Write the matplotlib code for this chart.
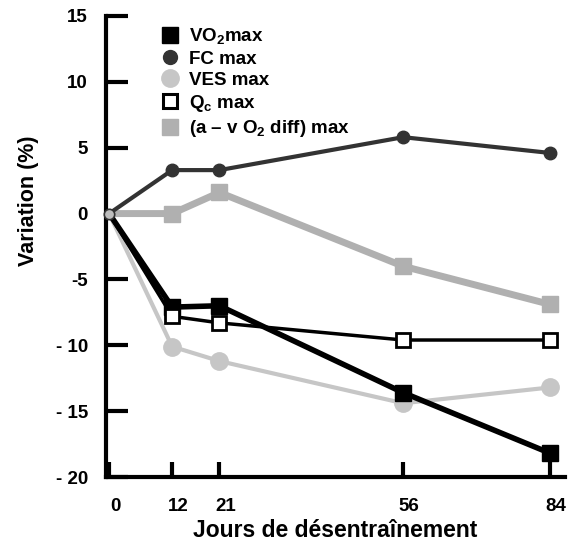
import matplotlib
matplotlib.use("Agg")
import matplotlib.pyplot as plt
import matplotlib.transforms as mtransforms
from matplotlib.lines import Line2D

plt.rcParams['font.family'] = ['Liberation Sans', 'DejaVu Sans']
plt.rcParams['font.weight'] = 'bold'
plt.rcParams['mathtext.fontset'] = 'custom'
plt.rcParams['mathtext.rm'] = 'Liberation Sans:bold'
plt.rcParams['mathtext.it'] = 'Liberation Sans:bold'
plt.rcParams['mathtext.bf'] = 'Liberation Sans:bold'
plt.rcParams['mathtext.default'] = 'bf'

# jours de désentraînement
jours = [0, 12, 21, 56, 84]

# variation (%) par paramètre
vo2_max = [0, -7.1, -7.0, -13.6, -18.2]
fc_max = [0, 3.3, 3.3, 5.8, 4.6]
ves_max = [0, -10.1, -11.2, -14.4, -13.2]
qc_max = [0, -7.8, -8.3, -9.6, -9.6]
avo2_max = [0, 0, 1.6, -4.0, -6.9]

y_ticks = [-20, -15, -10, -5, 0, 5, 10, 15]
y_labels = ['- 20', '- 15', '- 10', '-5', '0', '5', '10', '15']

fig = plt.figure(figsize=(5.72, 5.43), dpi=100)
ax = fig.add_axes([106 / 572, 66 / 543, 459 / 572, 461 / 543])

dark = '#333333'
light = '#c6c6c6'
mid = '#b0b0b0'
after = slice(1, None)  # symboles seulement après le jour 0

ax.plot(jours, ves_max, color=light, lw=3, marker='o', ms=12.5, mec=light, mfc=light,
        markevery=after, zorder=2)
ax.plot(jours, avo2_max, color=mid, lw=5, marker='s', ms=11, mec=mid, mfc=mid,
        markevery=after, zorder=3)
ax.plot(jours, fc_max, color=dark, lw=3, marker='o', ms=9, mec=dark, mfc=dark,
        markevery=after, zorder=4)
ax.plot(jours, vo2_max, color='black', lw=4, marker='s', ms=11, mec='black', mfc='black',
        markevery=after, zorder=5)
ax.plot(jours, qc_max, color='black', lw=2.5, marker='s', ms=10.5, mec='black', mfc='white',
        mew=2, markevery=after, zorder=6)
# point de départ commun
ax.plot(jours[0], ves_max[0], ls='none', marker='o', ms=7.5, mfc='#bdbdbd', mec=dark, mew=1.2,
        zorder=7, clip_on=False)

ax.set_xlim(-0.6, 86.8)
ax.set_ylim(-20, 15)
ax.set_xticks(jours)
ax.set_yticks(y_ticks)
ax.set_yticklabels(y_labels)

for s in ['top', 'right']:
    ax.spines[s].set_visible(False)
for s in ['left', 'bottom']:
    ax.spines[s].set_linewidth(3)

ax.tick_params(axis='y', direction='in', length=16, width=3, pad=13, labelsize=13.5)
ax.tick_params(axis='x', direction='in', length=11, width=3, pad=15, labelsize=13.5)

# étiquettes de l'axe x légèrement décalées vers la droite
shift = mtransforms.ScaledTranslation(6 / 100, 0, fig.dpi_scale_trans)
for lab in ax.get_xticklabels():
    lab.set_transform(lab.get_transform() + shift)

ax.set_xlabel('Jours de désentraînement', fontsize=16.5, fontweight='bold', labelpad=3)
ax.set_ylabel('Variation (%)', fontsize=15.5, fontweight='bold')
ax.yaxis.set_label_coords(-0.145, 0.60)

handles = [
    Line2D([], [], ls='none', marker='s', ms=11, mfc='black', mec='black'),
    Line2D([], [], ls='none', marker='o', ms=10, mfc=dark, mec=dark),
    Line2D([], [], ls='none', marker='o', ms=12.5, mfc=light, mec=light),
    Line2D([], [], ls='none', marker='s', ms=10.5, mfc='white', mec='black', mew=2.2),
    Line2D([], [], ls='none', marker='s', ms=11, mfc=mid, mec=mid),
]
labels = ['VO$_2$max', 'FC max', 'VES max', 'Q$_c$ max', '(a – v O$_2$ diff) max']
fig.legend(handles, labels, loc='upper left', bbox_to_anchor=(151 / 572, 1 - 17 / 543),
           frameon=False, handlelength=1.0, handletextpad=0.55, labelspacing=0.22,
           borderpad=0, prop={'weight': 'bold', 'size': 13.5})

fig.savefig('out.png', dpi=100)
